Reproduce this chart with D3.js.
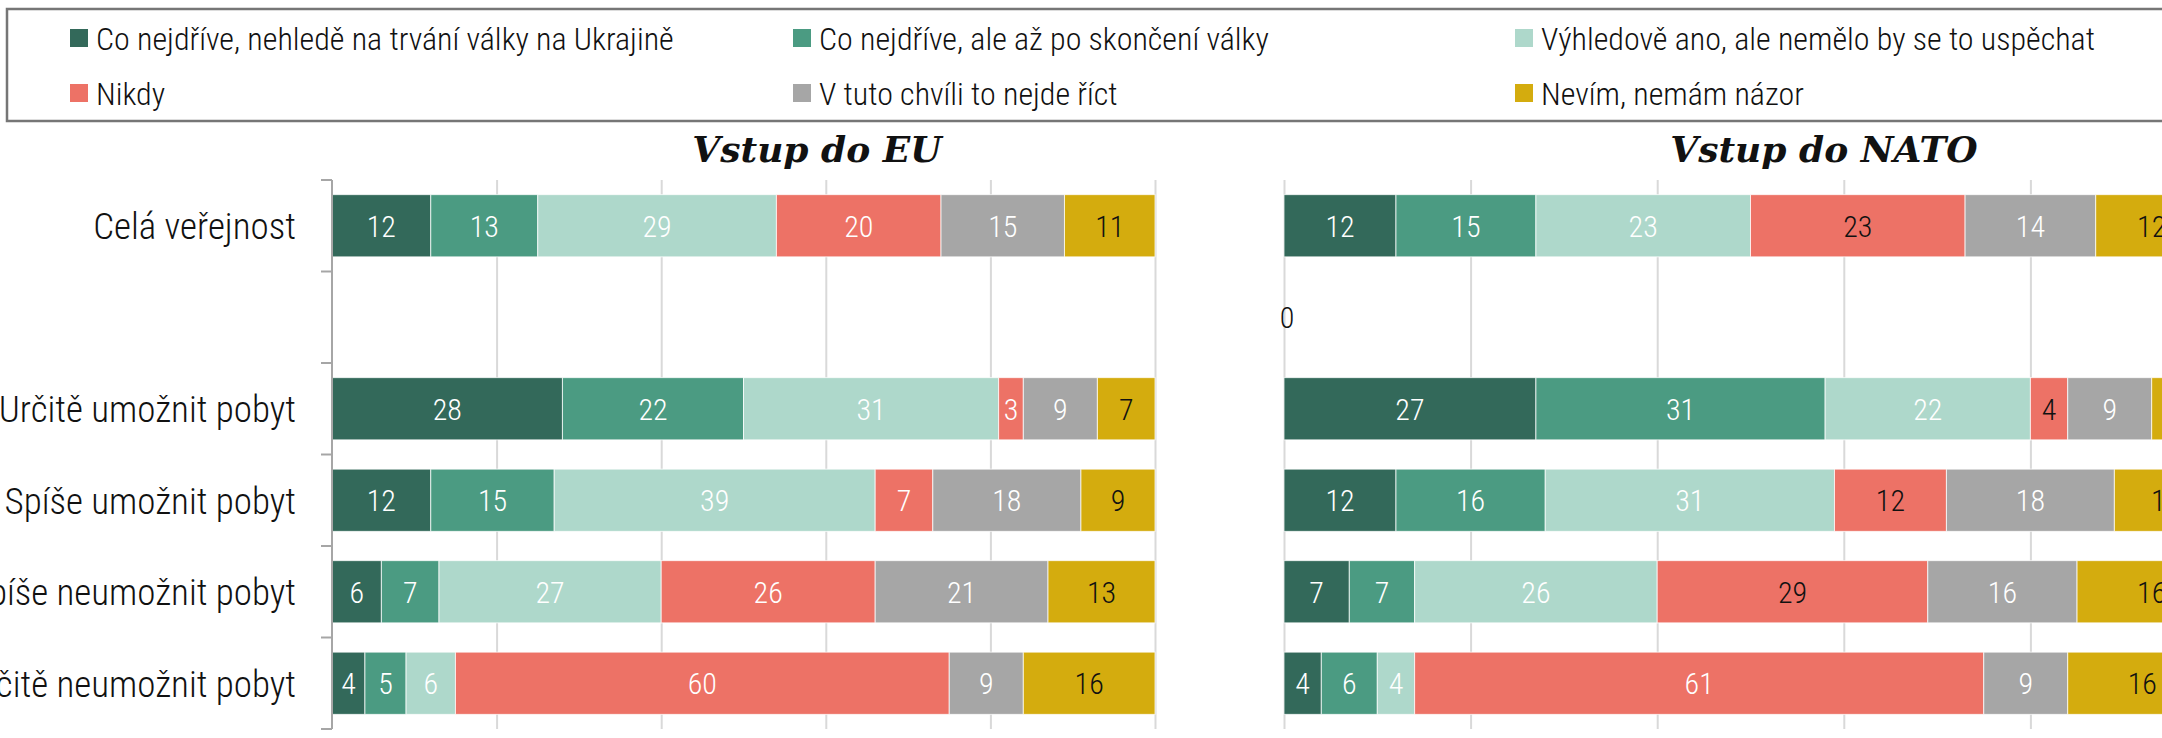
<!DOCTYPE html>
<html>
<head>
<meta charset="utf-8">
<script src="https://cdn.jsdelivr.net/npm/d3@7"></script>
<style>
  body { margin: 0; background: #fff; }
  svg text { font-family: 'Roboto Condensed', 'Roboto', sans-serif; font-weight: 300; font-stretch: condensed; }
  .panel-title { font-family: 'DejaVu Serif', serif !important; font-weight: bold !important; font-style: italic; font-stretch: normal !important; }
</style>
</head>
<body>
<div id="chart"></div>
<script>
// categories (second one is the empty spacer row)
const categories = ['Celá veřejnost', ' ', 'Určitě umožnit pobyt', 'Spíše umožnit pobyt', 'Spíše neumožnit pobyt', 'Určitě neumožnit pobyt'];

const seriesNames = [
    'Co nejdříve, nehledě na trvání války na Ukrajině',
    'Co nejdříve, ale až po skončení války',
    'Výhledově ano, ale nemělo by se to uspěchat',
    'Nikdy',
    'V tuto chvíli to nejde říct',
    'Nevím, nemám názor'
];

// values per category, in series order
const euValues = [
    [12, 13, 29, 20, 15, 11],
    [],
    [28, 22, 31, 3, 9, 7],
    [12, 15, 39, 7, 18, 9],
    [6, 7, 27, 26, 21, 13],
    [4, 5, 6, 60, 9, 16]
];

const natoValues = [
    [12, 15, 23, 23, 14, 12],
    [0],
    [27, 31, 22, 4, 9, 7],
    [12, 16, 31, 12, 18, 11],
    [7, 7, 26, 29, 16, 16],
    [4, 6, 4, 61, 9, 16]
];

const panelTitles = ['Vstup do EU', 'Vstup do NATO'];
const gridTicks = [0, 20, 40, 60, 80, 100];

const colors = ['#33695a', '#4b9b82', '#aed8cb', '#ed7266', '#a6a6a6', '#d4ac0e'];

const W = 2162, H = 738;

const svg = d3.select('#chart').append('svg')
    .attr('width', W)
    .attr('height', H);

// legend
const legendBox = svg.append('g').attr('class', 'legend');
legendBox.append('rect')
    .attr('x', 7).attr('y', 9)
    .attr('width', 2220).attr('height', 112)
    .attr('fill', 'none')
    .attr('stroke', '#767676')
    .attr('stroke-width', 2.5);

const legendCols = [70, 793, 1515];
const legendRows = [38, 93];

const legendItems = legendBox.selectAll('.legend-item')
    .data(seriesNames)
    .join('g')
    .attr('class', 'legend-item')
    .attr('transform', (d, i) => `translate(${legendCols[i % 3]},${legendRows[Math.floor(i / 3)]})`);

legendItems.append('rect')
    .attr('x', 0).attr('y', -9)
    .attr('width', 18).attr('height', 18)
    .attr('fill', (d, i) => colors[i]);

legendItems.append('text')
    .attr('x', 26)
    .attr('dy', '0.36em')
    .style('font-size', '32px')
    .attr('fill', '#111')
    .text(d => d);

// shared band scale
const yScale = d3.scaleBand()
    .domain(categories)
    .range([180, 729])
    .paddingInner(0.32)
    .paddingOuter(0.16);

const step = yScale.step();

function labelFill(panel, s, v) {
    if (v === 0) return '#111';
    if (s === 5) return '#111';
    if (panel === 1 && s === 3 && v < 50) return '#111';
    return '#fff';
}

function drawPanel(panel, values, xRange, titleX, withTicks) {
    const xScale = d3.scaleLinear().domain([0, 100]).range(xRange);
    const g = svg.append('g').attr('class', 'panel');

    // gridlines
    const xAxis = d3.axisBottom(xScale)
        .tickValues(panel === 0 ? gridTicks.slice(1) : gridTicks)
        .tickSize(-(729 - 180))
        .tickFormat('');
    g.append('g')
        .attr('class', 'grid')
        .attr('transform', 'translate(0,729)')
        .call(xAxis)
        .call(gg => gg.select('.domain').remove())
        .call(gg => gg.selectAll('line').attr('stroke', '#d9d9d9').attr('stroke-width', 2));

    // stacked segments
    const segs = [];
    values.forEach((row, ci) => {
        let acc = 0;
        row.forEach((v, s) => {
            segs.push({ cat: categories[ci], s, v, x0: acc, x1: acc + v });
            acc += v;
        });
    });

    g.selectAll('.seg')
        .data(segs.filter(d => d.v > 0))
        .join('rect')
        .attr('class', 'seg')
        .attr('x', d => xScale(d.x0))
        .attr('width', d => xScale(d.x1) - xScale(d.x0))
        .attr('y', d => yScale(d.cat))
        .attr('height', yScale.bandwidth())
        .attr('fill', d => colors[d.s])
        .attr('stroke', 'rgba(255,255,255,0.75)')
        .attr('stroke-width', 1);

    g.selectAll('.val')
        .data(segs)
        .join('text')
        .attr('class', 'val')
        .attr('x', d => xScale((d.x0 + d.x1) / 2) + (d.v === 0 ? 3 : 0))
        .attr('y', d => yScale(d.cat) + yScale.bandwidth() / 2)
        .attr('dy', '0.36em')
        .attr('text-anchor', 'middle')
        .style('font-size', '30px')
        .attr('fill', d => labelFill(panel, d.s, d.v))
        .text(d => d.v);

    // y axis
    if (withTicks) {
        g.append('line')
            .attr('x1', xScale(0)).attr('x2', xScale(0))
            .attr('y1', 180).attr('y2', 729)
            .attr('stroke', '#a6a6a6').attr('stroke-width', 2);
        const bounds = d3.range(categories.length + 1).map(i => 180 + i * step);
        g.selectAll('.ytick')
            .data(bounds)
            .join('line')
            .attr('class', 'ytick')
            .attr('x1', xScale(0) - 11).attr('x2', xScale(0))
            .attr('y1', d => d).attr('y2', d => d)
            .attr('stroke', '#a6a6a6').attr('stroke-width', 2);
        g.selectAll('.ylab')
            .data(categories)
            .join('text')
            .attr('class', 'ylab')
            .attr('x', xScale(0) - 36)
            .attr('y', d => yScale(d) + yScale.bandwidth() / 2)
            .attr('dy', '0.36em')
            .attr('text-anchor', 'end')
            .style('font-size', '37px')
            .attr('fill', '#111')
            .text(d => d.trim());
    }

    g.append('text')
        .attr('class', 'panel-title')
        .attr('x', titleX)
        .attr('y', 162)
        .attr('text-anchor', 'middle')
        .style('font-size', '36px')
        .attr('fill', '#111')
        .text(panelTitles[panel]);
}

drawPanel(0, euValues, [332, 1155], 817, true);
drawPanel(1, natoValues, [1284, 2217], 1824, false);
</script>
</body>
</html>
